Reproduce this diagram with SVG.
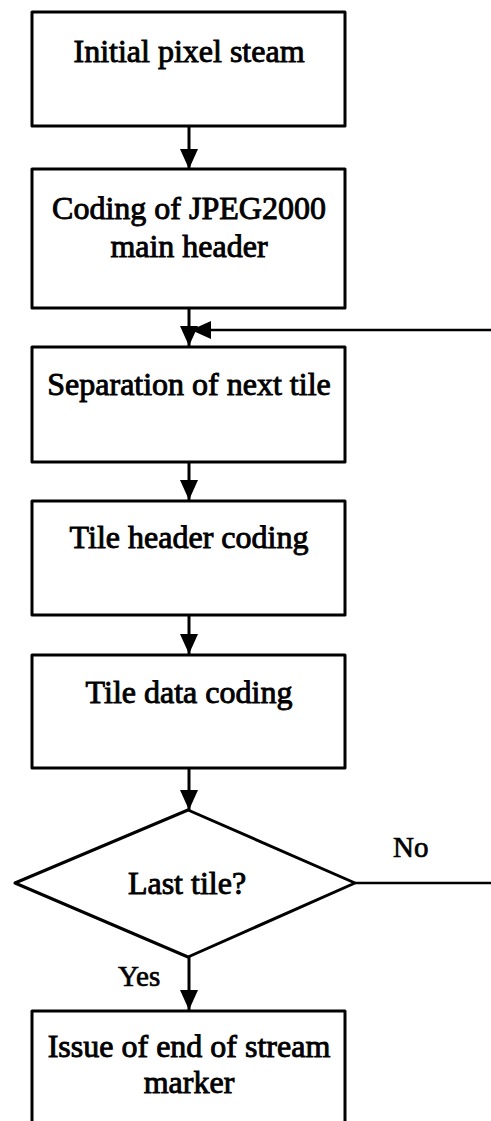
<svg xmlns="http://www.w3.org/2000/svg" width="491" height="1121" viewBox="0 0 491 1121">
  <style>
    .box { fill: #ffffff; stroke: #000000; stroke-width: 3; stroke-linejoin: round; }
    .lbl { font-family: "Liberation Serif", "Times New Roman", serif; font-size: 32px; fill: #000000; stroke: #000000; stroke-width: 0.9; text-anchor: middle; }
    .tag { font-family: "Liberation Serif", "Times New Roman", serif; font-size: 29px; fill: #000000; stroke: #000000; stroke-width: 0.7; }
    .flow { fill: none; stroke: #000000; stroke-width: 3; }
    .back { fill: none; stroke: #000000; stroke-width: 2.5; }
  </style>
  <defs>
    <marker id="arrow" viewBox="0 0 20 18" refX="20" refY="9" markerWidth="20" markerHeight="18" markerUnits="userSpaceOnUse" orient="auto">
      <path d="M0,0 L20,9 L0,18 Z" fill="#000000"/>
    </marker>
  </defs>

  <rect width="491" height="1121" fill="#ffffff"/>

  <!-- connectors -->
  <g id="connectors">
    <line class="flow" x1="189" y1="126" x2="189" y2="169" marker-end="url(#arrow)"/>
    <line class="flow" x1="189" y1="308" x2="189" y2="346" marker-end="url(#arrow)"/>
    <line class="flow" x1="189" y1="462" x2="189" y2="500" marker-end="url(#arrow)"/>
    <line class="flow" x1="189" y1="615" x2="189" y2="654" marker-end="url(#arrow)"/>
    <line class="flow" x1="189" y1="768" x2="189" y2="810" marker-end="url(#arrow)"/>
    <line class="flow" x1="189" y1="957" x2="189" y2="1010" marker-end="url(#arrow)"/>
    <!-- "No" branch loops back above the tile separation step -->
    <polyline class="back" points="355,883 491,883"/>
    <line class="back" x1="491" y1="330" x2="191" y2="330" marker-end="url(#arrow)"/>
    <text class="tag" x="393" y="857">No</text>
    <text class="tag" x="118" y="986">Yes</text>
  </g>

  <g id="start">
    <rect class="box" x="32" y="12" width="313" height="114"/>
    <text class="lbl" x="189" y="62">Initial pixel steam</text>
  </g>

  <g id="main-header">
    <rect class="box" x="32" y="169" width="313" height="139"/>
    <text class="lbl" x="189" y="219">Coding of JPEG2000</text>
    <text class="lbl" x="189" y="257">main header</text>
  </g>

  <g id="next-tile">
    <rect class="box" x="32" y="347" width="313" height="115"/>
    <text class="lbl" x="189" y="395">Separation of next tile</text>
  </g>

  <g id="tile-header">
    <rect class="box" x="32" y="501" width="313" height="114"/>
    <text class="lbl" x="189" y="548">Tile header coding</text>
  </g>

  <g id="tile-data">
    <rect class="box" x="32" y="655" width="313" height="113"/>
    <text class="lbl" x="189" y="703">Tile data coding</text>
  </g>

  <g id="last-tile">
    <polygon class="box" points="188,810 355,883 188,957 15,883"/>
    <text class="lbl" x="187" y="894">Last tile?</text>
  </g>

  <g id="end-marker">
    <rect class="box" x="32" y="1011" width="313" height="130"/>
    <text class="lbl" x="189" y="1057">Issue of end of stream</text>
    <text class="lbl" x="189" y="1093">marker</text>
  </g>
</svg>
